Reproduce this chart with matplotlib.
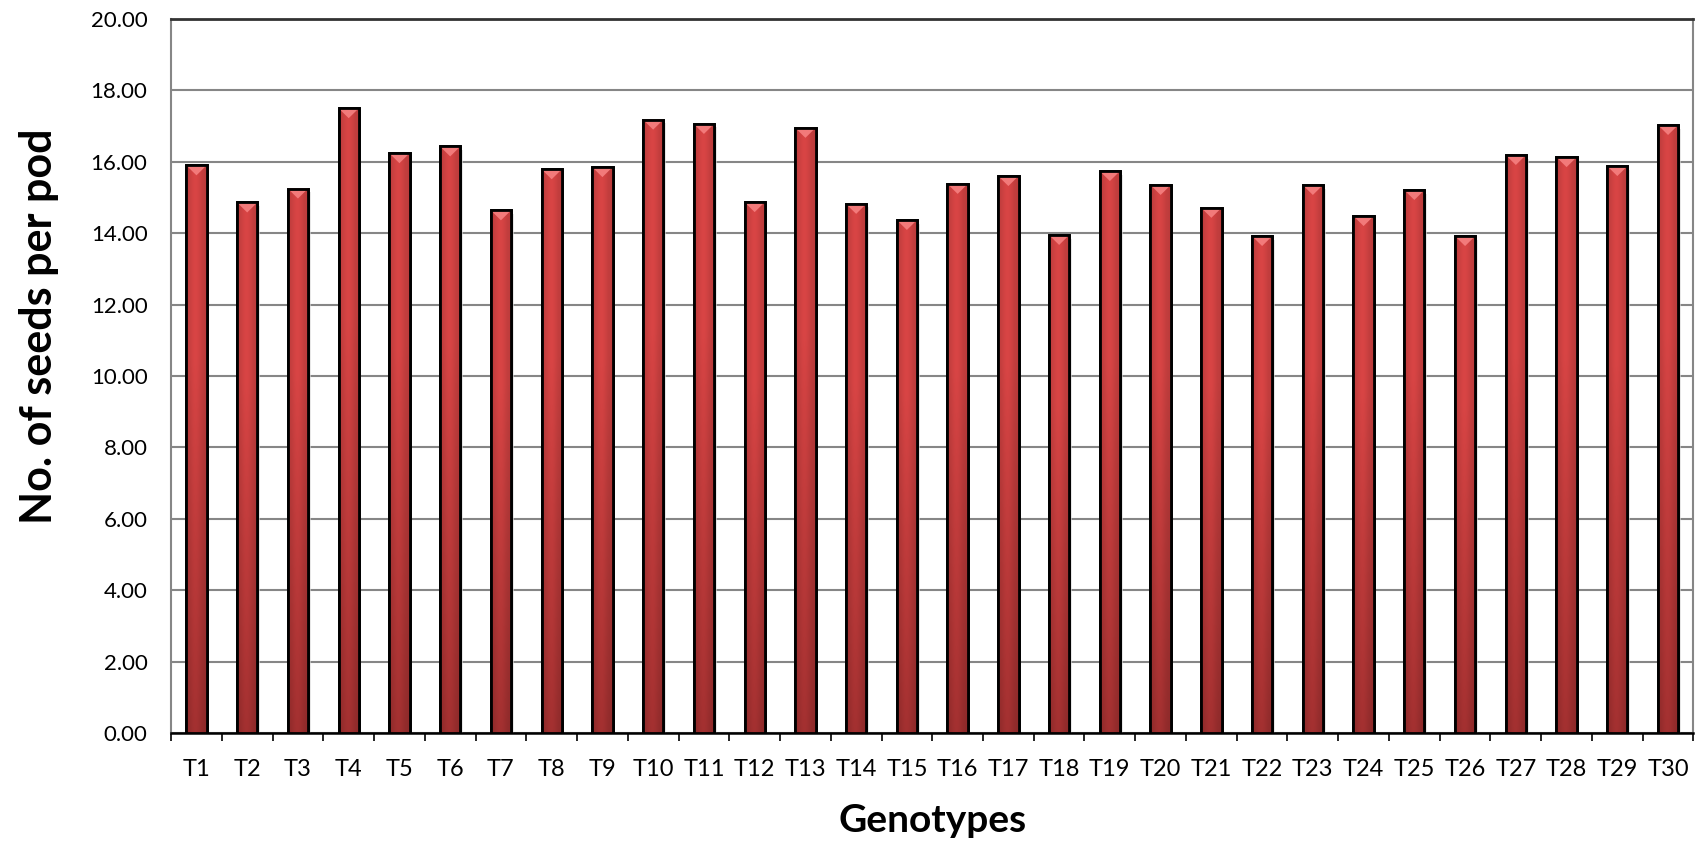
import numpy as np
import matplotlib
matplotlib.use("Agg")
import matplotlib.pyplot as plt
from matplotlib.patches import Polygon

genotypes = [f"T{i}" for i in range(1, 31)]
seeds_per_pod = [15.90, 14.86, 15.25, 17.50, 16.24, 16.43, 14.64, 15.79, 15.85, 17.18,
                 17.06, 14.87, 16.95, 14.82, 14.37, 15.38, 15.60, 13.95, 15.74, 15.35,
                 14.71, 13.92, 15.35, 14.48, 15.21, 13.92, 16.19, 16.13, 15.88, 17.03]
yticks = [0, 2, 4, 6, 8, 10, 12, 14, 16, 18, 20]

plt.rcParams['font.family'] = ['Lato', 'DejaVu Sans']

fig = plt.figure(figsize=(17.04, 8.43), dpi=100)
ax = fig.add_axes([0.1004, 0.1305, 0.8934, 0.847])

x = np.arange(len(genotypes))
width = 0.40
bars = ax.bar(x, seeds_per_pod, width=width, color='#d04040', edgecolor='black',
              linewidth=2.0, zorder=3)

# gradient fill for bars
hx = np.linspace(0, 1, 64)
hprof = 0.86 + 0.14 * np.exp(-((hx - 0.45) / 0.30) ** 2)
hprof = hprof / hprof.max()
vy = np.linspace(0, 1, 128)
base_top = np.array([0.85, 0.27, 0.27])
base_bot = np.array([0.64, 0.19, 0.19])
t = np.clip(vy * 1.5, 0, 1)
vcol = base_bot[None, :] + (base_top - base_bot)[None, :] * t[:, None]
img = np.clip(vcol[:, None, :] * hprof[None, :, None], 0, 1)
for b, v in zip(bars, seeds_per_pod):
    im = ax.imshow(img, extent=(b.get_x(), b.get_x() + b.get_width(), 0, v),
                   origin='lower', aspect='auto', zorder=3.5, interpolation='bilinear')
    im.set_clip_path(b)
    # top bevel
    tri = Polygon([[b.get_x(), v], [b.get_x() + b.get_width(), v],
                   [b.get_x() + b.get_width() / 2, v - 0.28]],
                  closed=True, facecolor='#f27a7a', edgecolor='none', zorder=3.6)
    ax.add_patch(tri)
    ax.add_patch(plt.Rectangle((b.get_x(), 0), b.get_width(), v, fill=False,
                               edgecolor='black', linewidth=2.0, zorder=3.8))
    # soft shadow
    ax.add_patch(plt.Rectangle((b.get_x() + b.get_width(), 0), 0.05, v - 0.1,
                               facecolor='#d8d8d8', edgecolor='none', alpha=0.6, zorder=2.5))

ax.set_xlim(-0.5, len(genotypes) - 0.5)
ax.set_ylim(0, 20)
ax.set_yticks(yticks)
ax.set_yticklabels([f"{t:.2f}" for t in yticks], fontsize=16)
ax.set_xticks(x)
ax.set_xticklabels(genotypes, fontsize=17)
ax.set_xticks(np.arange(-0.5, len(genotypes)), minor=True)
ax.tick_params(axis='x', which='major', length=0, pad=19)
ax.tick_params(axis='x', which='minor', length=6, width=1.2, color='black', direction='out')
ax.tick_params(axis='y', length=0, pad=17)

ax.grid(axis='y', color='#868686', linewidth=1.5, zorder=0)
ax.set_axisbelow(True)
for s in ['left', 'right']:
    ax.spines[s].set_color('#868686')
    ax.spines[s].set_linewidth(1.5)
ax.spines['top'].set_color('#333333')
ax.spines['top'].set_linewidth(2)
ax.spines['bottom'].set_color('black')
ax.spines['bottom'].set_linewidth(1.8)

ax.set_ylabel("No. of seeds per pod", fontsize=31, fontweight='bold', va='center')
ax.yaxis.set_label_coords(-0.087, 0.57)
ax.set_xlabel("Genotypes", fontsize=28, fontweight='bold', va='center')
ax.xaxis.set_label_coords(0.5, -0.122)

fig.savefig("out.png", dpi=100)
